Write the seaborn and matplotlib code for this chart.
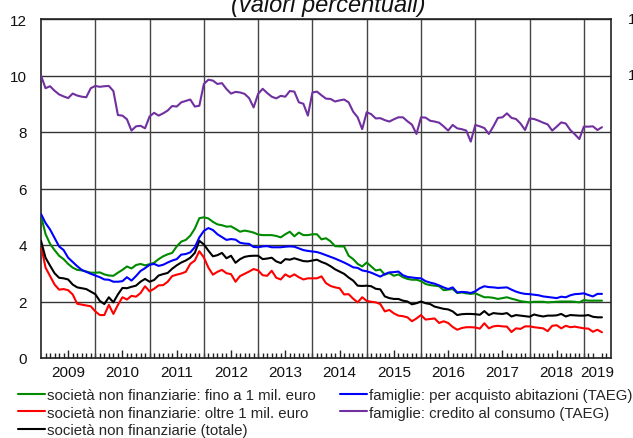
import numpy as np
import pandas as pd
import matplotlib
matplotlib.use("Agg")
import matplotlib.pyplot as plt
import seaborn as sns
from matplotlib.transforms import blended_transform_factory

# ---------------- data (monthly, Jan 2009 - May 2019) ----------------
start_month = "2009-01-01"
end_month = "2019-05-01"

snf_small = [5.04, 4.39, 4.04, 3.82, 3.62, 3.5, 3.33, 3.2, 3.12, 3.1, 3.06, 3.02,
             3.02, 3.03, 2.96, 2.92, 2.91, 3.02, 3.12, 3.24, 3.17, 3.29, 3.33, 3.28,
             3.32, 3.37, 3.5, 3.6, 3.67, 3.72, 3.95, 4.12, 4.18, 4.33, 4.58, 4.95,
             4.98, 4.94, 4.82, 4.73, 4.7, 4.65, 4.66, 4.57, 4.47, 4.51, 4.48, 4.44,
             4.37, 4.35, 4.35, 4.35, 4.32, 4.27, 4.38, 4.47, 4.31, 4.44, 4.35, 4.35,
             4.38, 4.38, 4.2, 4.24, 4.13, 3.96, 3.95, 3.95, 3.62, 3.5, 3.33, 3.24,
             3.38, 3.24, 3.1, 3.13, 2.95, 3.01, 2.91, 2.96, 2.86, 2.8, 2.77, 2.77,
             2.72, 2.62, 2.58, 2.56, 2.54, 2.4, 2.42, 2.44, 2.3, 2.32, 2.29, 2.27,
             2.29, 2.22, 2.15, 2.15, 2.13, 2.09, 2.12, 2.15, 2.1, 2.06, 2.01, 1.99,
             1.97, 1.99, 1.99, 1.99, 1.97, 1.98, 1.99, 2.0, 2.0, 2.0, 1.99, 1.97,
             2.05, 2.03, 2.03, 2.03, 2.03]

snf_large = [3.98, 3.2, 2.9, 2.6, 2.42, 2.44, 2.4, 2.25, 1.92, 1.89, 1.86, 1.83,
             1.65, 1.52, 1.52, 1.88, 1.56, 1.88, 2.15, 2.07, 2.2, 2.17, 2.3, 2.54,
             2.36, 2.45, 2.57, 2.58, 2.7, 2.9, 2.95, 2.99, 3.05, 3.33, 3.45, 3.78,
             3.56, 3.2, 2.95, 3.05, 3.12, 3.0, 2.97, 2.7, 2.9, 2.98, 3.06, 3.15,
             3.1, 2.93, 2.91, 3.09, 2.84, 2.78, 2.96, 2.87, 2.96, 2.86, 2.78, 2.82,
             2.82, 2.82, 2.89, 2.65, 2.55, 2.5, 2.47, 2.25, 2.26, 2.1, 1.97, 2.15,
             2.02, 1.99, 1.97, 1.91, 1.65, 1.7, 1.58, 1.5, 1.48, 1.44, 1.3, 1.4,
             1.52, 1.36, 1.38, 1.4, 1.24, 1.3, 1.24, 1.1, 1.0, 1.06, 1.09, 1.09,
             1.08, 1.04, 1.23, 1.05, 1.12, 1.14, 1.12, 1.11, 0.92, 1.05, 1.03, 1.12,
             1.12, 1.09, 1.07, 1.05, 0.95, 1.14, 1.16, 1.05, 1.14, 1.09, 1.11, 1.08,
             1.05, 1.04, 0.93, 1.0, 0.91]

snf_total = [4.15, 3.55, 3.27, 3.0, 2.84, 2.82, 2.78, 2.6, 2.5, 2.47, 2.44, 2.35,
             2.26, 2.02, 1.91, 2.15, 1.97, 2.25, 2.48, 2.47, 2.52, 2.56, 2.7, 2.8,
             2.7, 2.76, 2.92, 2.97, 3.01, 3.16, 3.28, 3.38, 3.45, 3.55, 3.72, 4.15,
             4.02, 3.8, 3.6, 3.64, 3.72, 3.53, 3.62, 3.37, 3.5, 3.58, 3.61, 3.62,
             3.62, 3.5, 3.52, 3.55, 3.42, 3.36, 3.5, 3.48, 3.53, 3.48, 3.43, 3.42,
             3.45, 3.48, 3.4, 3.34, 3.25, 3.14, 3.06, 2.98, 2.85, 2.74, 2.56, 2.55,
             2.56, 2.54, 2.45, 2.43, 2.18, 2.12, 2.09, 2.09, 2.03, 2.0, 1.9, 1.94,
             2.0, 1.94, 1.91, 1.82, 1.78, 1.74, 1.72, 1.65, 1.52, 1.55, 1.56, 1.56,
             1.55, 1.53, 1.66, 1.52, 1.59, 1.57, 1.56, 1.59, 1.47, 1.52, 1.5, 1.48,
             1.46, 1.54, 1.5, 1.47, 1.5, 1.5, 1.51, 1.56, 1.47, 1.52, 1.51, 1.5,
             1.5, 1.52, 1.46, 1.44, 1.44]

fam_housing = [5.1, 4.78, 4.55, 4.25, 3.95, 3.82, 3.55, 3.4, 3.25, 3.12, 3.05, 2.98,
               2.92, 2.86, 2.78, 2.77, 2.7, 2.7, 2.72, 2.86, 2.74, 2.9, 3.08, 3.18,
               3.3, 3.33, 3.26, 3.3, 3.38, 3.45, 3.5, 3.66, 3.68, 3.74, 3.92, 4.27,
               4.5, 4.6, 4.53, 4.38, 4.28, 4.18, 4.21, 4.19, 4.08, 4.05, 4.04, 3.93,
               3.92, 3.95, 3.96, 3.92, 3.92, 3.92, 3.94, 3.95, 3.94, 3.88, 3.82, 3.79,
               3.77, 3.75, 3.7, 3.64, 3.58, 3.52, 3.45, 3.38, 3.3, 3.21, 3.19, 3.1,
               3.07, 3.02, 2.95, 2.88, 2.97, 3.03, 3.04, 3.06, 2.93, 2.87, 2.85, 2.83,
               2.82, 2.72, 2.67, 2.63, 2.57, 2.5, 2.44, 2.5, 2.32, 2.34, 2.33, 2.3,
               2.36, 2.47, 2.54, 2.51, 2.5, 2.48, 2.49, 2.5, 2.42, 2.35, 2.3, 2.27,
               2.26, 2.24, 2.22, 2.18, 2.16, 2.14, 2.12, 2.17, 2.15, 2.22, 2.26, 2.27,
               2.29, 2.23, 2.18, 2.27, 2.27]

fam_consumer = [10.0, 9.55, 9.62, 9.46, 9.33, 9.26, 9.2, 9.36, 9.29, 9.25, 9.23, 9.55,
                9.63, 9.6, 9.62, 9.63, 9.45, 8.6, 8.58, 8.45, 8.05, 8.2, 8.22, 8.13,
                8.55, 8.68, 8.58, 8.66, 8.76, 8.92, 8.9, 9.05, 9.1, 9.15, 8.9, 8.93,
                9.7, 9.85, 9.82, 9.7, 9.73, 9.52, 9.36, 9.42, 9.4, 9.35, 9.2, 8.87,
                9.35, 9.53, 9.38, 9.25, 9.19, 9.28, 9.25, 9.45, 9.43, 9.05, 9.0, 8.58,
                9.4, 9.43, 9.3, 9.18, 9.17, 9.08, 9.12, 9.15, 9.05, 8.72, 8.52, 8.1,
                8.7, 8.63, 8.48, 8.49, 8.42, 8.37, 8.45, 8.52, 8.52, 8.38, 8.26, 7.93,
                8.52, 8.51, 8.4, 8.37, 8.33, 8.2, 8.05, 8.25, 8.13, 8.1, 8.05, 7.66,
                8.25, 8.2, 8.14, 7.93, 8.2, 8.5, 8.52, 8.66, 8.5, 8.46, 8.3, 8.07,
                8.48, 8.46, 8.4, 8.33, 8.27, 8.05, 8.19, 8.34, 8.3, 8.07, 7.92, 7.75,
                8.19, 8.19, 8.2, 8.07, 8.17]

series_labels = [
    "società non finanziarie: fino a 1 mil. euro",
    "società non finanziarie: oltre 1 mil. euro",
    "società non finanziarie (totale)",
    "famiglie: per acquisto abitazioni (TAEG)",
    "famiglie: credito al consumo (TAEG)",
]
series_colors = ["#008a00", "#ff0000", "#000000", "#0000ff", "#7030a0"]
year_labels = ["2009", "2010", "2011", "2012", "2013", "2014",
               "2015", "2016", "2017", "2018", "2019"]
y_ticks = [0, 2, 4, 6, 8, 10, 12]
right_cut_ticks = [10, 12]
title_text = "(valori percentuali)"

# ---------------- build long table ----------------
dates = pd.date_range(start_month, end_month, freq="MS")
month_idx = (dates.year - 2009) * 12 + (dates.month - 1)
frames = []
for lab, vals in zip(series_labels,
                     [snf_small, snf_large, snf_total, fam_housing, fam_consumer]):
    frames.append(pd.DataFrame({"mese": month_idx, "valore": vals, "serie": lab}))
df = pd.concat(frames, ignore_index=True)

# ---------------- figure ----------------
sns.set_theme(style="white")
plt.rcParams["font.family"] = ["Liberation Sans", "DejaVu Sans"]

W, H = 633, 439
fig = plt.figure(figsize=(W / 100, H / 100), dpi=100)
ax = fig.add_axes([41 / W, 1 - 359 / H, 570 / W, 339 / H])

sns.lineplot(data=df, x="mese", y="valore", hue="serie", hue_order=series_labels,
             palette=dict(zip(series_labels, series_colors)), linewidth=1.5,
             ax=ax, legend=True, zorder=3)
handles, labels = ax.get_legend_handles_labels()
ax.get_legend().remove()

ax.set_xlim(0, 126)
ax.set_ylim(0, 12)
ax.set_xlabel("")
ax.set_ylabel("")

# y axis
ax.set_yticks(y_ticks)
ax.set_yticklabels([str(v) for v in y_ticks], fontsize=11, color="#111111")
ax.tick_params(axis="y", length=0, pad=10)
ax.grid(axis="y", color="#333333", linewidth=1.0, zorder=1)

# x axis: year labels centred in each year, monthly minor ticks
label_pos = [6 + 12 * k for k in range(10)] + [123]
ax.set_xticks(label_pos)
ax.set_xticklabels(year_labels, fontsize=11, color="#111111")
ax.tick_params(axis="x", which="major", length=0, pad=5)
ax.set_xticks(np.arange(1, 126), minor=True)
ax.tick_params(axis="x", which="minor", direction="in", length=3.5, width=1.0,
               color="#222222", bottom=True)
for k in range(1, 11):
    ax.axvline(12 * k, color="#444444", linewidth=1.0, zorder=1)
sec = ax.secondary_xaxis("bottom")
sec.set_xticks([6 + 12 * k for k in range(10)])
sec.set_xticklabels([])
sec.tick_params(direction="in", length=6, width=1.0, color="#222222")
sec.spines["bottom"].set_visible(False)

for s in ax.spines.values():
    s.set_color("#222222")
    s.set_linewidth(1.2)
    s.set_visible(True)

# right-hand labels, cut off by the image edge as in the original
tr = blended_transform_factory(fig.transFigure, ax.transData)
for v in right_cut_ticks:
    fig.text(645 / W, v, str(v), transform=tr, ha="right", va="center",
             fontsize=11, color="#111111")

# title (cut off at the top)
fig.text(328 / W, 1 - 12 / H, title_text, ha="center", va="baseline",
         fontsize=17, style="italic", color="#111111")

fig.legend(handles, labels, ncol=2, loc="upper left",
           bbox_to_anchor=(18 / W, 1 - 389 / H), frameon=False, fontsize=10.8,
           handlelength=1.8, handletextpad=0.15, columnspacing=1.6,
           labelspacing=0.24, borderpad=0, borderaxespad=0)

fig.savefig("out.png", dpi=100)
